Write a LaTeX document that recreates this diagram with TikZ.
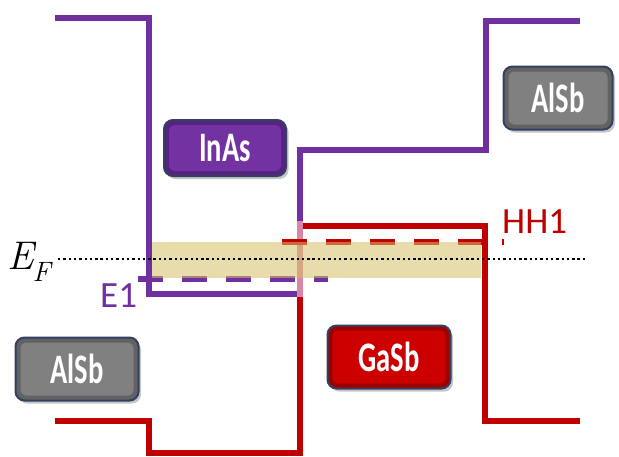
\documentclass[tikz,border=0pt]{standalone}
\usepackage{fontspec}
\usepackage{graphicx}
\newfontfamily\carlito{Carlito}
\usetikzlibrary{shadows}
\definecolor{vpurple}{RGB}{112,48,160}
\definecolor{vred}{RGB}{192,0,0}
\definecolor{bandc}{RGB}{214,192,105}
\definecolor{boxborder}{RGB}{50,65,95}
\definecolor{pinkover}{RGB}{215,135,165}
\definecolor{boxpurple}{RGB}{115,50,162}
\definecolor{boxpurpleedge}{RGB}{88,34,128}
\definecolor{boxgrey}{RGB}{128,128,128}
\definecolor{boxgreyedge}{RGB}{98,98,98}
\definecolor{boxred}{RGB}{205,0,0}
\definecolor{boxrededge}{RGB}{158,0,0}
\tikzset{
  bandline/.style={line width=6pt, line join=miter},
  levelline/.style={line width=6pt, dash pattern=on 25pt off 19pt},
  matbox/.style 2 args={rounded corners=9pt, draw=boxborder, line width=2pt, fill=#2,
    drop shadow={opacity=0.45, shadow xshift=2.5pt, shadow yshift=-3pt},
    path picture={\fill[#1, rounded corners=6pt]
      ([shift={(5pt,-5pt)}]path picture bounding box.north west) rectangle
      ([shift={(-5pt,5pt)}]path picture bounding box.south east);},
    text=white, font=\carlito\bfseries\fontsize{42}{42}\selectfont},
  lbl/.style={anchor=base west, inner sep=0pt, font=\carlito\fontsize{37}{37}\selectfont}
}
\begin{document}
\begin{tikzpicture}[x=1pt, y=-1pt]
\useasboundingbox (0,0) rectangle (619,456);
% conduction band (purple)
\draw[bandline, vpurple] (55,18) -- (149,18) -- (149,294) -- (300,294) -- (300,150) -- (486,150) -- (486,21) -- (580,21);
% valence band (red)
\draw[bandline, vred] (55,421) -- (149,421) -- (149,453) -- (300,453) -- (300,226) -- (485,226) -- (485,421) -- (580,421);
% overlap of the two lines
\draw[line width=6pt, pinkover] (300,221) -- (300,297);
% subband levels
\draw[levelline, vpurple] (138,279) -- (328,279);
\draw[levelline, vred] (282,242) -- (504,242);
% occupied band
\fill[bandc, opacity=0.55] (152,242) rectangle (481,278);
% Fermi level
\draw[line width=2.4pt, dash pattern=on 2.4pt off 2.9pt] (58,259) -- (585,259);
\node[anchor=base west, inner sep=0pt, font=\fontsize{40}{44}\selectfont\itshape] (ef) at (7,269) {E\kern-1pt\raisebox{-12pt}{\fontsize{28}{28}\selectfont F}};
\node[lbl, text=vred] (hh1) at (502,233) {HH1};
\node[lbl, text=vpurple] (e1) at (100,307) {E1};
% material boxes
\node[matbox={boxpurple}{boxpurpleedge}, minimum width=122pt, minimum height=56pt] (inas) at (225,148) {\scalebox{0.68}[1]{InAs}};
\node[matbox={boxgrey}{boxgreyedge}, minimum width=109pt, minimum height=63pt] (alsbr) at (558,98) {\scalebox{0.68}[1]{AlSb}};
\node[matbox={boxgrey}{boxgreyedge}, minimum width=123pt, minimum height=63pt] (alsbl) at (77,369) {\scalebox{0.68}[1]{AlSb}};
\node[matbox={boxred}{boxrededge}, minimum width=123pt, minimum height=63pt] (gasb) at (389,357) {\scalebox{0.68}[1]{GaSb}};
\end{tikzpicture}
\end{document}
